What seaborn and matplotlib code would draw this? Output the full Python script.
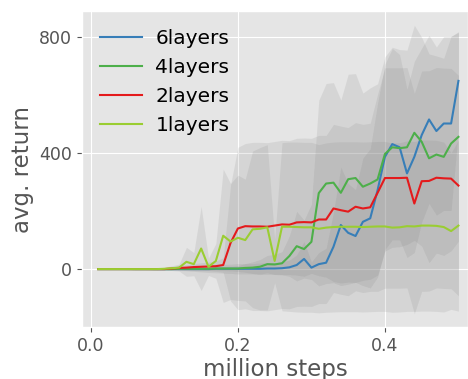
import matplotlib
matplotlib.use("Agg")
import matplotlib.pyplot as plt
import seaborn as sns
import numpy as np
import pandas as pd

# million steps
steps = [0.01, 0.02, 0.03, 0.04, 0.05, 0.06, 0.07, 0.08, 0.09, 0.10,
         0.11, 0.12, 0.13, 0.14, 0.15, 0.16, 0.17, 0.18, 0.19, 0.20,
         0.21, 0.22, 0.23, 0.24, 0.25, 0.26, 0.27, 0.28, 0.29, 0.30,
         0.31, 0.32, 0.33, 0.34, 0.35, 0.36, 0.37, 0.38, 0.39, 0.40,
         0.41, 0.42, 0.43, 0.44, 0.45, 0.46, 0.47, 0.48, 0.49, 0.50]

# mean returns
mean_6 = [0, 0, 0, 0, 0, 0, 0, 0, 0, 0,
          0, 0, 0, 0, 0, 0, 1, 1, 1, 1,
          1, 1, 1, 2, 2, 3, 6, 14, 35, 5,
          17, 22, 77, 152, 125, 114, 163, 175, 272, 387,
          431, 420, 330, 387, 462, 516, 476, 502, 502, 649]
mean_4 = [0, 0, 0, 0, 0, 0, 0, 0, 0, 0,
          0, 1, 1, 1, 1, 1, 2, 2, 2, 2,
          4, 5, 8, 17, 16, 20, 45, 79, 69, 94,
          262, 295, 298, 263, 310, 314, 284, 295, 309, 397,
          420, 417, 420, 470, 439, 382, 395, 387, 433, 456]
mean_2 = [0, 0, 0, 0, 0, 0, 0, 0, 0, 0,
          2, 4, 5, 7, 8, 9, 10, 14, 90, 140,
          148, 147, 147, 146, 150, 154, 153, 161, 162, 161,
          171, 171, 209, 203, 198, 215, 209, 213, 263, 314,
          314, 314, 315, 226, 303, 304, 315, 313, 312, 288]
mean_1 = [0, 0, 0, 0, 0, 0, 0, 0, 0, 1,
          3, 5, 25, 17, 71, 8, 28, 115, 95, 108,
          100, 137, 139, 144, 28, 146, 146, 145, 144, 144,
          139, 143, 145, 146, 146, 146, 145, 146, 147, 147,
          143, 144, 148, 147, 150, 150, 149, 145, 131, 150]

# standard deviations (shaded bands)
std_6 = [1, 1, 1, 1, 1, 2, 2, 2, 3, 3,
         4, 5, 6, 8, 10, 12, 14, 15, 16, 18,
         18, 18, 20, 20, 20, 22, 25, 35, 60, 20,
         40, 50, 120, 200, 170, 160, 220, 240, 300, 320,
         330, 320, 290, 330, 300, 290, 290, 300, 300, 170]
std_4 = [1, 1, 1, 1, 1, 2, 2, 2, 3, 3,
         3, 4, 4, 5, 5, 6, 6, 7, 8, 10,
         15, 20, 25, 30, 35, 40, 70, 120, 100, 130,
         320, 345, 345, 320, 362, 360, 323, 330, 330, 335,
         345, 340, 335, 371, 360, 360, 340, 340, 370, 360]
std_2 = [1, 1, 1, 1, 2, 2, 2, 3, 3, 4,
         5, 8, 10, 12, 14, 15, 18, 25, 200, 280,
         285, 290, 290, 290, 290, 290, 290, 290, 290, 290,
         290, 290, 290, 290, 290, 290, 290, 290, 340, 380,
         380, 380, 380, 380, 380, 380, 380, 380, 380, 380]
std_1 = [2, 2, 2, 2, 2, 3, 3, 3, 4, 5,
         8, 12, 50, 40, 145, 30, 60, 230, 200, 216,
         210, 270, 280, 285, 75, 290, 292, 293, 293, 293,
         290, 292, 293, 293, 293, 293, 293, 293, 293, 293,
         292, 292, 294, 293, 295, 295, 295, 293, 270, 295]

labels = ["6layers", "4layers", "2layers", "1layers"]
means = [mean_6, mean_4, mean_2, mean_1]
stds = [std_6, std_4, std_2, std_1]
colors = ["#377eb8", "#4daf4a", "#e41a1c", "#9acd32"]

plt.style.use("ggplot")

rows = []
for lab, m in zip(labels, means):
    for s, v in zip(steps, m):
        rows.append({"steps": s, "avg. return": v, "model": lab})
df = pd.DataFrame(rows)

fig = plt.figure(figsize=(4.68, 3.79), dpi=100)
ax = fig.add_axes([0.175, 0.137, 0.825, 0.834])

for lab, m, sd in zip(labels, means, stds):
    m = np.array(m, dtype=float)
    sd = np.array(sd, dtype=float)
    ax.fill_between(steps, m - sd, m + sd, color="gray", alpha=0.15, linewidth=0)

sns.lineplot(data=df, x="steps", y="avg. return", hue="model",
             palette=dict(zip(labels, colors)), hue_order=labels,
             linewidth=1.5, ax=ax)

ax.set_xlim(-0.0122, 0.513)
ax.set_ylim(-200, 890)
ax.set_xticks([0.0, 0.2, 0.4])
ax.set_yticks([0, 400, 800])
ax.set_xlabel("million steps", fontsize=16.5, color="#555555", labelpad=2)
ax.set_ylabel("avg. return", fontsize=16.5, color="#555555", labelpad=4)
ax.tick_params(labelsize=12.5, colors="#555555")

ax.legend(loc="upper left", frameon=False, fontsize=14.5,
          handlelength=2.1, handletextpad=0.65, labelspacing=0.5,
          borderaxespad=0.5)

fig.savefig("out.png", dpi=100)
